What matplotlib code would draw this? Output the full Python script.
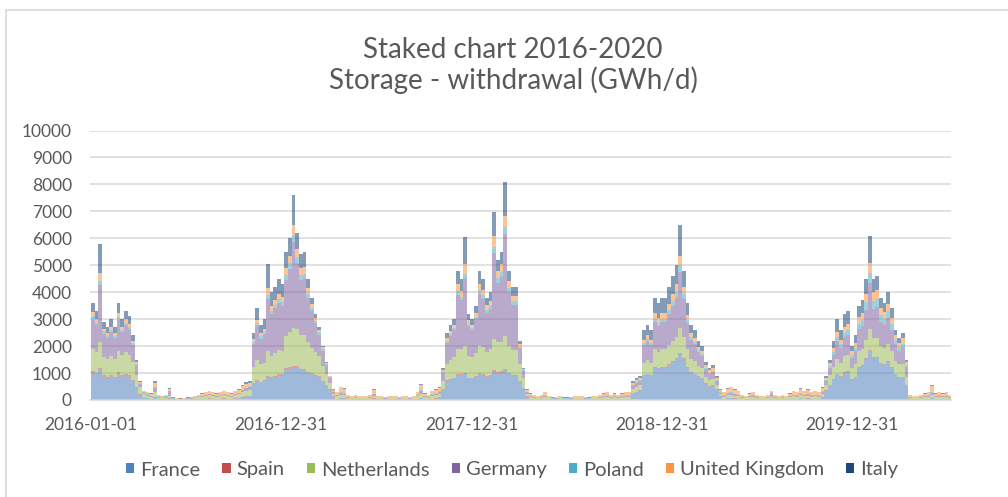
import matplotlib
matplotlib.use('Agg')
import matplotlib.pyplot as plt
import matplotlib.dates as mdates
from matplotlib.patches import Patch, Rectangle
import numpy as np
import pandas as pd

# weekly withdrawal (GWh/d), weeks starting 2016-01-01
france = [
    1000, 950, 1100, 850, 800, 850, 800, 950, 850, 900, 850, 700, 450, 200, 80, 60,
    40, 80, 30, 20, 30, 50, 15, 10, 10, 10, 15, 15, 20, 25, 30, 40, 45, 40, 30, 40, 45, 40, 30, 45, 60, 90, 110, 130,
    600, 700, 650, 700, 850, 800, 850, 900, 900, 1100, 1150, 1200, 1200, 1100, 1100, 1000, 950, 900, 850, 700, 550, 380, 120,
    40, 60, 55, 25, 20, 25, 20, 20, 20, 25, 50, 20, 20, 15, 20, 20, 20, 15, 20, 20, 15, 20, 40, 70, 30, 25, 45, 55, 80,
    400, 700, 750, 800, 900, 900, 950, 800, 800, 850, 950, 900, 850, 900, 1050, 1000, 1000, 1100, 950, 900, 900, 700, 450, 120,
    35, 25, 20, 25, 40, 20, 15, 15, 20, 15, 15, 15, 20, 20, 20, 15, 15, 20, 20, 25, 35, 40, 25, 35, 25, 35, 40, 40,
    250, 300, 350, 900, 950, 900, 1200, 1150, 1200, 1200, 1300, 1400, 1500, 1700, 1500, 1200, 1000, 950, 850, 800, 600, 500, 520, 380, 130,
    40, 60, 70, 55, 45, 25, 20, 35, 40, 25, 20, 20, 25, 40, 25, 20, 25, 20, 35, 45, 40, 60, 45, 55, 40, 45, 40, 80,
    350, 550, 750, 950, 850, 1000, 1050, 750, 850, 1200, 1250, 1500, 1800, 1550, 1550, 1350, 1300, 1400, 1200, 950, 850, 850, 550,
    30, 20, 20, 25, 35, 40, 70, 35, 40, 35, 40, 25,
]
spain = [
    80, 70, 100, 60, 60, 70, 60, 80, 70, 70, 70, 50, 40, 20, 10, 10,
    10, 20, 10, 10, 10, 15, 5, 5, 5, 5, 5, 5, 5, 10, 10, 10, 15, 10, 10, 10, 15, 10, 10, 15, 15, 20, 20, 25,
    30, 40, 30, 40, 50, 50, 50, 60, 50, 70, 70, 80, 70, 60, 60, 50, 40, 40, 30, 20, 20, 10, 10,
    10, 15, 15, 10, 5, 10, 5, 5, 5, 10, 15, 5, 5, 5, 5, 5, 5, 5, 5, 5, 5, 5, 10, 20, 10, 10, 10, 15, 15,
    20, 30, 30, 30, 50, 50, 60, 30, 30, 40, 50, 50, 40, 40, 60, 50, 60, 60, 50, 40, 40, 20, 10, 10,
    10, 10, 5, 10, 10, 5, 5, 5, 5, 5, 5, 5, 5, 5, 5, 5, 5, 5, 5, 10, 10, 10, 10, 10, 10, 10, 10, 10,
    10, 10, 10, 30, 30, 30, 40, 40, 40, 40, 50, 50, 50, 60, 50, 40, 30, 30, 30, 20, 20, 20, 20, 10, 10,
    10, 15, 15, 15, 10, 10, 5, 10, 10, 10, 5, 5, 10, 10, 10, 5, 10, 5, 10, 10, 10, 15, 10, 15, 10, 10, 10, 15,
    10, 20, 20, 30, 30, 30, 30, 20, 20, 30, 40, 40, 50, 40, 40, 40, 30, 40, 30, 30, 20, 20, 20,
    10, 5, 5, 10, 10, 10, 15, 10, 10, 10, 10, 10,
]
netherlands = [
    800, 750, 950, 700, 650, 700, 650, 800, 750, 800, 750, 650, 450, 250, 120, 90,
    60, 200, 50, 40, 50, 80, 20, 15, 10, 15, 20, 30, 40, 60, 80, 100, 120, 100, 80, 100, 120, 100, 80, 120, 130, 170, 200, 220,
    600, 750, 650, 650, 900, 800, 850, 900, 850, 1200, 1300, 1400, 1350, 1250, 1250, 1100, 950, 850, 750, 550, 400, 250, 110,
    90, 120, 110, 50, 35, 50, 35, 35, 35, 50, 90, 35, 35, 25, 35, 35, 35, 25, 35, 35, 25, 35, 80, 150, 60, 50, 90, 100, 130,
    300, 600, 700, 750, 950, 950, 1000, 800, 750, 850, 1050, 1000, 900, 950, 1150, 1100, 1100, 1200, 1000, 900, 900, 600, 350, 100,
    60, 50, 35, 50, 70, 35, 20, 25, 35, 20, 20, 25, 35, 35, 35, 25, 20, 35, 35, 50, 60, 70, 50, 60, 50, 60, 70, 70,
    150, 170, 180, 450, 500, 450, 650, 600, 650, 650, 700, 750, 800, 900, 800, 650, 500, 450, 400, 350, 250, 220, 240, 170, 70,
    70, 100, 110, 90, 80, 50, 35, 60, 70, 50, 35, 35, 50, 60, 50, 35, 50, 35, 60, 80, 70, 100, 80, 90, 70, 80, 70, 120,
    200, 350, 450, 550, 500, 600, 600, 400, 450, 600, 620, 700, 800, 700, 720, 620, 600, 650, 580, 480, 450, 480, 300,
    45, 35, 35, 50, 60, 70, 100, 60, 70, 60, 70, 50,
]
germany = [
    1100, 1000, 2100, 850, 800, 900, 800, 1150, 850, 1000, 950, 650, 350, 120, 50, 40,
    40, 150, 30, 20, 30, 180, 15, 10, 10, 10, 15, 15, 20, 25, 30, 35, 40, 35, 30, 35, 40, 35, 30, 40, 50, 80, 100, 110,
    850, 1250, 950, 1050, 1950, 1550, 1650, 1750, 1700, 2100, 2350, 3200, 2450, 2050, 2100, 1650, 1350, 1050, 800, 550, 320, 170, 60,
    40, 70, 60, 25, 20, 25, 20, 20, 20, 25, 60, 20, 20, 15, 20, 20, 20, 15, 20, 20, 15, 20, 40, 100, 30, 25, 45, 55, 80,
    300, 800, 900, 1000, 2000, 1800, 2500, 1100, 1000, 1250, 1900, 1800, 1450, 1500, 3200, 2200, 2400, 3800, 2000, 1700, 1700, 600, 250, 60,
    35, 25, 20, 25, 40, 20, 15, 15, 20, 15, 15, 15, 20, 20, 20, 15, 15, 20, 20, 25, 35, 40, 25, 35, 25, 35, 40, 40,
    130, 150, 170, 650, 700, 650, 1000, 950, 1000, 1000, 1150, 1300, 1450, 2100, 1400, 950, 700, 650, 500, 450, 280, 230, 260, 150, 60,
    40, 60, 70, 55, 50, 25, 20, 35, 40, 25, 20, 20, 25, 150, 25, 20, 25, 20, 35, 50, 40, 60, 50, 55, 40, 50, 40, 80,
    150, 280, 450, 650, 550, 700, 750, 400, 500, 800, 850, 1100, 1700, 1100, 1150, 900, 850, 950, 800, 600, 500, 600, 350,
    25, 20, 20, 25, 35, 40, 70, 35, 40, 35, 40, 25,
]
poland = [
    120, 100, 150, 90, 80, 90, 80, 110, 90, 100, 90, 70, 50, 30, 20, 20,
    15, 30, 10, 10, 10, 20, 5, 5, 5, 5, 5, 5, 10, 10, 10, 15, 15, 15, 10, 15, 15, 15, 10, 15, 20, 25, 30, 30,
    80, 100, 80, 90, 150, 120, 120, 140, 130, 180, 200, 250, 220, 180, 180, 150, 120, 100, 80, 60, 40, 30, 20,
    15, 20, 20, 10, 10, 10, 10, 10, 10, 10, 25, 10, 10, 5, 10, 10, 10, 5, 10, 10, 5, 10, 15, 30, 15, 10, 15, 20, 25,
    40, 70, 80, 80, 150, 140, 180, 90, 80, 100, 140, 130, 110, 120, 220, 170, 180, 250, 150, 130, 130, 60, 40, 20,
    15, 10, 10, 10, 15, 10, 5, 5, 10, 5, 5, 5, 10, 10, 10, 5, 5, 10, 10, 10, 15, 15, 10, 15, 10, 15, 15, 15,
    30, 30, 30, 80, 90, 80, 130, 120, 130, 130, 150, 170, 200, 250, 180, 130, 100, 90, 80, 70, 50, 40, 50, 30, 20,
    15, 20, 25, 20, 15, 10, 10, 15, 15, 10, 10, 10, 10, 15, 10, 10, 10, 10, 15, 15, 15, 20, 15, 20, 15, 15, 15, 25,
    40, 70, 100, 150, 130, 170, 170, 100, 120, 200, 220, 280, 350, 280, 290, 230, 220, 250, 200, 150, 130, 140, 80,
    15, 10, 10, 10, 15, 15, 25, 15, 15, 15, 15, 10,
]
united_kingdom = [
    150, 130, 300, 100, 90, 110, 90, 150, 110, 130, 110, 80, 60, 40, 50, 60,
    60, 150, 50, 40, 50, 70, 30, 30, 15, 30, 30, 40, 45, 55, 70, 80, 90, 80, 70, 80, 90, 80, 70, 90, 95, 120, 130, 120,
    100, 140, 120, 120, 250, 180, 180, 200, 180, 250, 280, 350, 300, 250, 260, 200, 150, 120, 100, 70, 50, 40, 60,
    85, 180, 160, 65, 50, 65, 50, 50, 50, 65, 130, 50, 50, 45, 50, 50, 50, 45, 50, 50, 45, 50, 95, 190, 85, 65, 120, 125, 130,
    60, 100, 110, 110, 250, 200, 350, 130, 110, 150, 220, 200, 160, 170, 400, 270, 300, 400, 250, 200, 200, 100, 60, 70,
    75, 65, 50, 65, 105, 50, 30, 45, 50, 30, 30, 45, 50, 50, 50, 45, 30, 50, 50, 65, 75, 105, 65, 75, 65, 75, 105, 105,
    70, 70, 80, 120, 130, 120, 200, 190, 200, 200, 220, 250, 300, 350, 280, 200, 150, 140, 120, 110, 90, 90, 100, 90, 80,
    105, 165, 175, 135, 125, 65, 50, 75, 105, 65, 50, 50, 65, 55, 65, 50, 65, 50, 75, 125, 105, 165, 125, 135, 105, 125, 105, 140,
    80, 110, 150, 200, 180, 220, 220, 150, 170, 250, 260, 320, 400, 320, 330, 270, 260, 290, 250, 200, 180, 200, 120,
    60, 50, 50, 65, 75, 105, 230, 75, 105, 75, 105, 65,
]
italy = [
    350, 300, 1100, 250, 220, 280, 220, 360, 280, 300, 280, 200, 100, 40, 20, 20,
    25, 70, 20, 10, 20, 35, 10, 5, 5, 5, 10, 10, 10, 15, 20, 20, 25, 20, 20, 20, 25, 20, 20, 25, 30, 45, 60, 65,
    240, 420, 320, 350, 900, 500, 500, 550, 490, 600, 650, 1120, 610, 510, 550, 350, 240, 140, 90, 50, 20, 20, 20,
    20, 35, 30, 15, 10, 15, 10, 10, 10, 15, 30, 10, 10, 10, 10, 10, 10, 10, 10, 10, 10, 10, 20, 40, 20, 15, 25, 30, 40,
    80, 200, 230, 230, 500, 460, 1000, 250, 230, 260, 490, 420, 290, 320, 900, 410, 460, 1290, 400, 330, 330, 120, 40, 20,
    20, 15, 10, 15, 20, 10, 10, 10, 10, 10, 10, 10, 10, 10, 10, 10, 10, 10, 10, 15, 20, 20, 15, 20, 15, 20, 20, 20,
    60, 70, 80, 370, 400, 370, 580, 550, 580, 580, 630, 680, 700, 1140, 590, 430, 320, 290, 220, 200, 110, 100, 110, 70, 30,
    20, 30, 35, 30, 25, 15, 10, 20, 20, 15, 10, 10, 15, 20, 15, 10, 15, 10, 20, 25, 20, 30, 25, 30, 20, 25, 20, 40,
    70, 120, 280, 470, 360, 480, 480, 180, 290, 420, 460, 560, 1000, 510, 520, 390, 340, 420, 340, 190, 170, 210, 80,
    15, 10, 10, 15, 20, 20, 40, 20, 20, 20, 20, 15,
]

countries = ['France', 'Spain', 'Netherlands', 'Germany', 'Poland', 'United Kingdom', 'Italy']
series = [france, spain, netherlands, germany, poland, united_kingdom, italy]
colors = ['#4F81BD', '#C0504D', '#9BBB59', '#8064A2', '#4BACC6', '#F79646', '#1F497D']
tick_dates = ['2016-01-01', '2016-12-31', '2017-12-31', '2018-12-31', '2019-12-31']

for s in series:
    assert len(s) == len(france), len(s)

plt.rcParams['font.family'] = ['Lato', 'DejaVu Sans']
txt = '#595959'
grid = '#D9D9D9'

fig = plt.figure(figsize=(10.08, 4.97), dpi=100)
ax = fig.add_axes([90 / 1008, 1 - 400 / 497, 861 / 1008, 269.5 / 497])

weeks = mdates.date2num(pd.date_range('2016-01-01', periods=len(france), freq='7D'))
bottom = np.zeros(len(france))
for name, vals, c in zip(countries, series, colors):
    ax.bar(weeks, vals, width=7, bottom=bottom, align='edge', color=c,
           alpha=0.55, linewidth=0)
    bottom += np.array(vals)

ax.set_ylim(0, 10000)
ax.set_yticks(range(0, 10001, 1000))
ax.set_xlim(mdates.date2num(pd.Timestamp('2015-12-30')), mdates.date2num(pd.Timestamp('2020-07-08')))
ax.set_xticks(mdates.date2num(pd.to_datetime(tick_dates)))
ax.set_xticklabels(tick_dates)

ax.yaxis.grid(True, color=grid, linewidth=1.1)
ax.set_axisbelow(True)
for sp in ['top', 'right', 'left']:
    ax.spines[sp].set_visible(False)
ax.spines['bottom'].set_color(grid)
ax.spines['bottom'].set_linewidth(1.1)
ax.spines['bottom'].set_zorder(5)
ax.tick_params(axis='y', length=0, pad=13, labelsize=12.5, labelcolor=txt)
ax.tick_params(axis='x', length=0, pad=12, labelsize=12.5, labelcolor=txt)

fig.text(0.509, 1 - 58 / 497, 'Staked chart 2016-2020', ha='center', va='baseline',
         fontsize=20, color=txt)
fig.text(0.509, 1 - 89 / 497, 'Storage - withdrawal (GWh/d)', ha='center', va='baseline',
         fontsize=20, color=txt)

handles = [Patch(facecolor=c, edgecolor='none', label=n) for n, c in zip(countries, colors)]
fig.legend(handles=handles, loc='center', bbox_to_anchor=(0.508, 1 - 470 / 497), ncol=7,
           frameon=False, fontsize=14.5, labelcolor=txt, handlelength=0.4, handleheight=0.4,
           handletextpad=0.3, columnspacing=1.1)

# chart area border (top and left edges visible)
fig.add_artist(Rectangle((6 / 1008, -0.1), 1.2, 0.1 + 487 / 497, transform=fig.transFigure,
                         fill=False, edgecolor=grid, linewidth=1.2))

fig.savefig('out.png', dpi=100)
